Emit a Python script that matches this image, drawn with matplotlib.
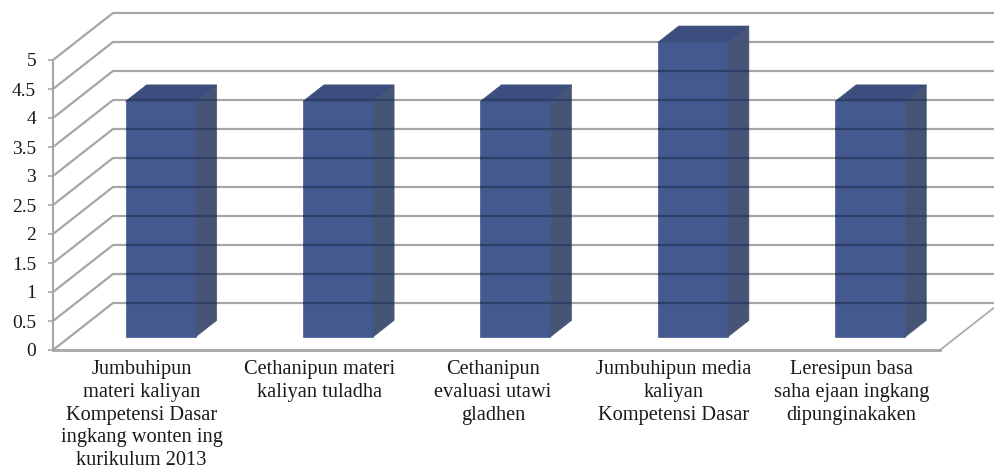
import matplotlib
matplotlib.use('Agg')
import matplotlib.pyplot as plt
from matplotlib.patches import Polygon

# Chart data
categories = [
    'Jumbuhipun\nmateri kaliyan\nKompetensi Dasar\ningkang wonten ing\nkurikulum 2013',
    'Cethanipun materi\nkaliyan tuladha',
    'Cethanipun\nevaluasi utawi\ngladhen',
    'Jumbuhipun media\nkaliyan\nKompetensi Dasar',
    'Leresipun basa\nsaha ejaan ingkang\ndipunginakaken',
]
values = [4, 4, 4, 5, 4]
y_ticks = [0, 0.5, 1, 1.5, 2, 2.5, 3, 3.5, 4, 4.5, 5]
y_tick_labels = ['0', '0.5', '1', '1.5', '2', '2.5', '3', '3.5', '4', '4.5', '5']

# Layout constants (pixels of the 994x470 picture)
LEFT, RIGHT, BOTTOM, TOP = 53, 940, 350, 60
W, H = 994, 470
PX_X = 5 / (RIGHT - LEFT)
PX_Y = 5 / (BOTTOM - TOP)
DEPTH_X = 60 * PX_X
DEPTH_Y = 47 * PX_Y
BAR_W = 0.395
BAR_SHIFT = 0.012
BAR_NEAR, BAR_FAR = 0.28, 0.63
BAR_SCALE = 1.015
LABEL_SHIFT = [0.0, 0.0, -0.02, 0.0, 0.0]

GRID = '#a6a6a6'
FRONT = '#43598f'
SIDE = '#465576'
TOPC = '#3c4e7d'
GRID_DARK = '#2f3f68'
TEXT = '#1a1a1a'


def proj(x, v, d):
    # oblique projection: depth d (0 front, 1 back wall) moves the point up and right
    return x + d * DEPTH_X, v + d * DEPTH_Y


fig = plt.figure(figsize=(W / 100, H / 100), dpi=100)
ax = fig.add_axes([LEFT / W, 1 - BOTTOM / H, (RIGHT - LEFT) / W, (BOTTOM - TOP) / H])
ax.set_xlim(0, 5)
ax.set_ylim(0, 5)
ax.patch.set_visible(False)

# Back wall and side wall lines
for v in y_ticks:
    x0, y0 = proj(0, v, 0)
    x1, y1 = proj(0, v, 1)
    x2, y2 = proj(5, v, 1)
    ax.plot([x0, x1, x2], [y0, y1, y2], color=GRID, lw=1.6, clip_on=False, zorder=1)

# Floor edge on the right
x0, y0 = proj(5, 0, 0)
x1, y1 = proj(5, 0, 1)
ax.plot([x0, x1], [y0, y1], color=GRID, lw=1.2, clip_on=False, zorder=1)

# Bars
for i, val in enumerate(values):
    xl = i + 0.5 + BAR_SHIFT - BAR_W / 2
    xr = i + 0.5 + BAR_SHIFT + BAR_W / 2
    h = val * BAR_SCALE
    front = [proj(xl, 0, BAR_NEAR), proj(xr, 0, BAR_NEAR), proj(xr, h, BAR_NEAR), proj(xl, h, BAR_NEAR)]
    side = [proj(xr, 0, BAR_NEAR), proj(xr, 0, BAR_FAR), proj(xr, h, BAR_FAR), proj(xr, h, BAR_NEAR)]
    top = [proj(xl, h, BAR_NEAR), proj(xr, h, BAR_NEAR), proj(xr, h, BAR_FAR), proj(xl, h, BAR_FAR)]
    polys = [(front, FRONT), (side, SIDE), (top, TOPC)]
    for pts, col in polys:
        p = Polygon(pts, closed=True, facecolor=col, edgecolor=col, lw=0.5, clip_on=False, zorder=2)
        ax.add_patch(p)
        # gridlines show through the bars
        for v in y_ticks:
            x1, y1 = proj(0, v, 1)
            x2, y2 = proj(5, v, 1)
            line, = ax.plot([x1, x2], [y1, y2], color=GRID_DARK, lw=1.6, zorder=3)
            line.set_clip_path(p)

# Axes
for name in ['top', 'right']:
    ax.spines[name].set_visible(False)
for name in ['left', 'bottom']:
    ax.spines[name].set_color(GRID)
ax.spines['left'].set_linewidth(1.5)
ax.spines['bottom'].set_linewidth(2)

ax.set_yticks(y_ticks)
ax.set_yticklabels(y_tick_labels, family='Liberation Serif', fontsize=14, color=TEXT)
ax.tick_params(axis='y', color=GRID, width=1.2, length=3.6, pad=8.5)

ax.set_xticks([i + 0.5 + s for i, s in enumerate(LABEL_SHIFT)])
ax.set_xticklabels(categories, family='Liberation Serif', fontsize=14.7, color=TEXT, linespacing=1.28)
ax.tick_params(axis='x', length=0, pad=7)

fig.savefig('out.png', dpi=100)
plt.close(fig)
